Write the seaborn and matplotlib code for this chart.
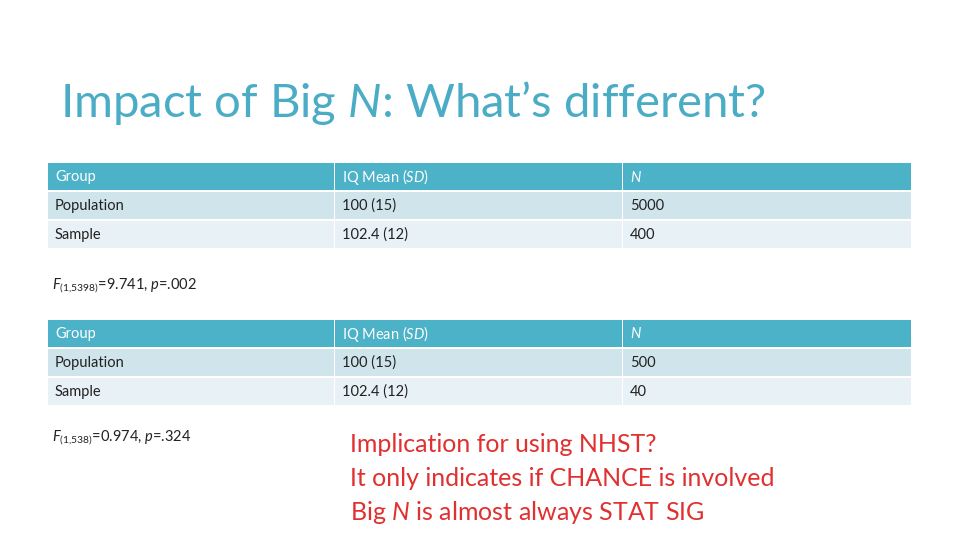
import matplotlib
matplotlib.use("Agg")
import matplotlib.pyplot as plt
from matplotlib.patches import Rectangle
import seaborn as sns

sns.set_theme(style="white")
plt.rcParams['font.family'] = ['Lato', 'DejaVu Sans']
plt.rcParams['mathtext.fontset'] = 'custom'
plt.rcParams['mathtext.it'] = 'Lato:italic:normal'
plt.rcParams['mathtext.rm'] = 'Lato:normal'

title = "Impact of Big $\\mathit{N}$: What’s different?"
headers = ["Group", "IQ Mean ($\\mathit{SD}$)", "$\\mathit{N}$"]
groups = ["Population", "Sample"]
means = ["100 (15)", "102.4 (12)"]
n_table1 = ["5000", "400"]
n_table2 = ["500", "40"]
stat1 = "$\\mathit{F}_{(1{,}5398)}$=9.741, $\\mathit{p}$=.002"
stat2 = "$\\mathit{F}_{(1{,}538)}$=0.974, $\\mathit{p}$=.324"
notes = ["Implication for using NHST?", "It only indicates if CHANCE is involved",
         "Big $\\mathit{N}$ is almost always STAT SIG"]

fig = plt.figure(figsize=(9.6, 5.4), dpi=100)
ax = fig.add_axes([0, 0, 1, 1])
ax.set_xlim(0, 960); ax.set_ylim(540, 0); ax.axis("off")

ax.text(60, 103, title, fontsize=34, color="#4BACC6", fontweight="normal", va="center")

cols = [48, 335, 623, 912]
colors = ["#4BB2C8", "#D0E4EC", "#E8F1F5"]

def table(top, nvals):
    rows = [headers] + [[g, m, n] for g, m, n in zip(groups, means, nvals)]
    for r, row in enumerate(rows):
        y = top + r * 29
        for c in range(3):
            ax.add_patch(Rectangle((cols[c], y), cols[c+1] - cols[c] - 1, 27,
                                   facecolor=colors[r], edgecolor="none"))
            ax.text(cols[c] + 7, y + 14, row[c], fontsize=10.5, va="center",
                    color="white" if r == 0 else "#222222")

table(163, n_table1)
table(320, n_table2)
ax.text(52, 286, stat1, fontsize=10.5, va="center", color="#222222")
ax.text(52, 438, stat2, fontsize=10.5, va="center", color="#222222")
for i, t in enumerate(notes):
    ax.text(350, 444 + i * 34, t, fontsize=18, va="center", color="#E03030")

fig.savefig("out.png", dpi=100)
